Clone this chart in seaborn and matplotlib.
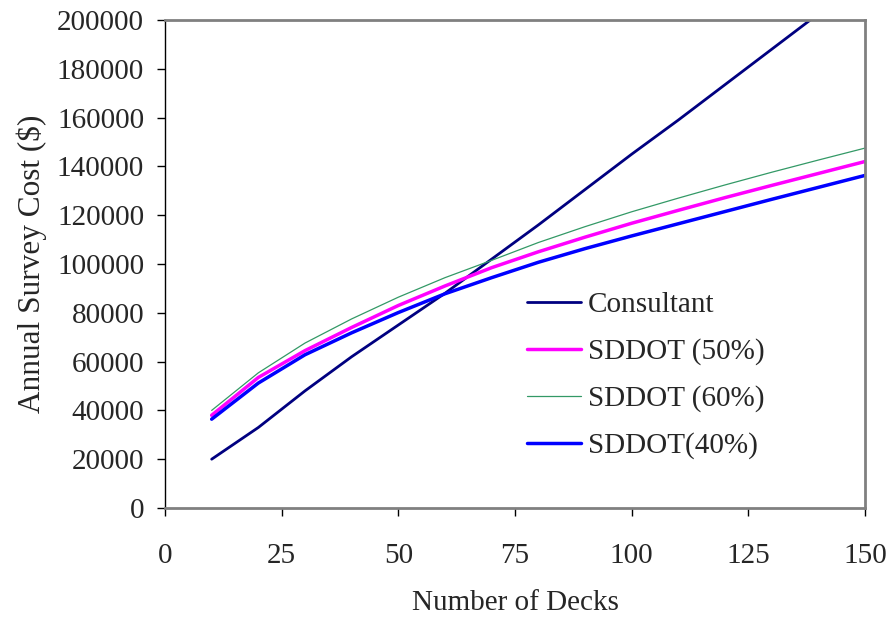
import matplotlib
matplotlib.use("Agg")
import matplotlib.pyplot as plt
import seaborn as sns
import pandas as pd

decks = [10, 20, 30, 40, 50, 60, 70, 80, 90, 100, 110, 120, 130, 140, 150]
consultant = [20000, 33000, 48000, 62000, 75000, 88000, 102000, 116000, 130500,
              145000, 159000, 173500, 188000, 202500, 217000]
sddot50 = [38000, 53500, 64500, 74000, 83000, 91000, 98500, 105000, 111000,
           116700, 122000, 127200, 132200, 137100, 142000]
sddot60 = [40000, 55400, 67600, 77500, 86400, 94400, 101500, 108800, 115300,
           121400, 127000, 132400, 137600, 142600, 147500]
sddot40 = [36400, 51200, 62800, 71800, 80100, 87800, 94400, 100700, 106300,
           111500, 116500, 121500, 126500, 131400, 136300]

names = ["Consultant", "SDDOT (50%)", "SDDOT (60%)", "SDDOT(40%)"]
series = [consultant, sddot50, sddot60, sddot40]
colors = ["#000080", "#FF00FF", "#339966", "#0000FF"]
widths = [2.0, 2.5, 0.9, 2.5]

sns.set_style("white")
plt.rcParams['font.family'] = ['Liberation Serif', 'DejaVu Serif']

fig = plt.figure(figsize=(8.91, 6.25), dpi=100)
ax = fig.add_axes([165/891, 1-508/625, 700/891, 488/625])

for name, vals, c, w in zip(names, series, colors, widths):
    df = pd.DataFrame({"Decks": decks, "Cost": vals})
    sns.lineplot(data=df, x="Decks", y="Cost", color=c, linewidth=w, label=name, ax=ax)

ax.set_xlim(0, 150)
ax.set_ylim(0, 200000)
ax.set_xticks([0, 25, 50, 75, 100, 125, 150])
ax.set_yticks(range(0, 200001, 20000))
ax.tick_params(axis='both', labelsize=21, direction='out', length=6, width=1,
               color='black', bottom=True, left=True)
ax.tick_params(axis='x', pad=19)
ax.tick_params(axis='y', pad=9)

for s in ["top", "right", "bottom"]:
    ax.spines[s].set_color("#808080")
    ax.spines[s].set_linewidth(2)
ax.spines["left"].set_color("black")
ax.spines["left"].set_linewidth(1)

ax.set_xlabel("Number of Decks", fontsize=21, labelpad=15)
ax.set_ylabel("Annual Survey Cost (\\$)", fontsize=22.5, labelpad=7)

leg = ax.legend(loc="upper left", bbox_to_anchor=(0.517, 0.443), frameon=False,
                fontsize=21, handlelength=1.85, handletextpad=0.25, labelspacing=0.69,
                borderaxespad=0, borderpad=0)

fig.savefig("out.png", dpi=100)
